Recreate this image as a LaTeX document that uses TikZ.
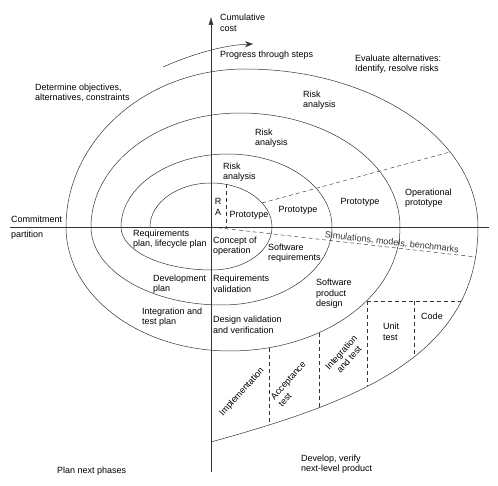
\documentclass[tikz,border=0pt]{standalone}
\usepackage{fontspec}
\setmainfont{Liberation Sans}
\usetikzlibrary{arrows.meta}

\tikzset{
	lbl/.style={font=\fontsize{9}{10.5}\selectfont, inner sep=0pt, align=left},
	axis/.style={line width=0.5pt, black!80},
	spiral/.style={line width=0.5pt, black!80},
	part/.style={line width=0.45pt, black!80, dash pattern=on 4pt off 3pt},
}

\begin{document}
\begin{tikzpicture}[x=1pt, y=-1pt]
		\useasboundingbox (0,0) rectangle (498,486);

		\coordinate (o) at (211,227);
		\coordinate (top) at (211,17);
		\coordinate (bot) at (211,472);
		\coordinate (west) at (10,227);
		\coordinate (east) at (489,227);
		\coordinate (start) at (150,227);

		% axes
		\draw[axis, -{Latex[length=8pt,width=5pt]}] (bot) -- (top);
		\draw[axis] (west) -- (east);

		% the spiral, one half turn after another
		\draw[spiral] (start)
			arc[start angle=180, end angle=270, x radius=61, y radius=44]
			arc[start angle=270, end angle=360, x radius=61, y radius=44]
			arc[start angle=0, end angle=90, x radius=60, y radius=43]
			arc[start angle=90, end angle=180, x radius=91, y radius=43]
			arc[start angle=180, end angle=270, x radius=107, y radius=73]
			arc[start angle=270, end angle=360, x radius=104, y radius=73]
			arc[start angle=0, end angle=90, x radius=110, y radius=78]
			arc[start angle=90, end angle=180, x radius=131, y radius=78]
			arc[start angle=180, end angle=270, x radius=149, y radius=114]
			arc[start angle=270, end angle=360, x radius=160, y radius=114]
			arc[start angle=0, end angle=90, x radius=170, y radius=124]
			arc[start angle=90, end angle=180, x radius=164, y radius=124]
			arc[start angle=180, end angle=270, x radius=179, y radius=158]
			arc[start angle=270, end angle=360, x radius=233, y radius=158]
			.. controls (478,357) and (355,402) .. (211,442);

		% progress arrow
		\coordinate (pg0) at (163,67);
		\coordinate (pg1) at (253,44);
		\draw[axis, -{Stealth[length=8pt,width=6pt]}] (pg0) .. controls (195,53) and (225,45) .. (pg1);

		% partitions
		\coordinate (ra0) at (226,184);
		\coordinate (ra1) at (226,227);
		\coordinate (pr0) at (262,203);
		\coordinate (pr1) at (450,152);
		\coordinate (sim1) at (476,257);
		\coordinate (imp0) at (269,348);
		\coordinate (imp1) at (269,425);
		\coordinate (acc0) at (319,333);
		\coordinate (acc1) at (319,408);
		\coordinate (int0) at (367,301);
		\coordinate (int1) at (367,386);
		\coordinate (ut0) at (414,301);
		\coordinate (ut1) at (414,357);
		\coordinate (cd1) at (461,301);

		\draw[part] (ra0) -- (ra1);
		\draw[part] (pr0) -- (pr1);
		\draw[part] (o) -- (sim1) node[lbl, pos=0.68, sloped, above=1pt] (sim) {Simulations, models, benchmarks};
		\draw[part] (imp0) -- (imp1);
		\draw[part] (acc0) -- (acc1);
		\draw[part] (int0) -- (int1);
		\draw[part] (ut0) -- (ut1);
		\draw[part] (int0) -- (cd1);

		% quadrant texts
		\node[lbl, anchor=west] (cost) at (220,23) {Cumulative\\cost};
		\node[lbl, anchor=west] (progress) at (220,55) {Progress through steps};
		\node[lbl, anchor=west] (determine) at (35,93) {Determine objectives,\\alternatives, constraints};
		\node[lbl, anchor=west] (evaluate) at (355,64) {Evaluate alternatives:\\Identify, resolve risks};
		\node[lbl, anchor=west] (commit) at (11,219) {Commitment};
		\node[lbl, anchor=west] (partition) at (11,235) {partition};
		\node[lbl, anchor=west] (plannext) at (57,471) {Plan next phases};
		\node[lbl, anchor=west] (develop) at (301,464) {Develop, verify\\next-level product};

		% upper right
		\node[lbl, anchor=west] (risk3) at (303,100) {Risk\\analysis};
		\node[lbl, anchor=west] (risk2) at (255,138) {Risk\\analysis};
		\node[lbl, anchor=west] (risk1) at (223,172) {Risk\\analysis};
		\node[lbl, align=center] (ra) at (218,207) {R\\A};
		\node[lbl] (proto0) at (249,215) {Prototype};
		\node[lbl] (proto1) at (298,210) {Prototype};
		\node[lbl] (proto2) at (360,202) {Prototype};
		\node[lbl, anchor=west] (opproto) at (405,198) {Operational\\prototype};

		% lower left
		\node[lbl, anchor=west] (reqplan) at (133,239) {Requirements\\plan, lifecycle plan};
		\node[lbl, anchor=west] (devplan) at (153,284) {Development\\plan};
		\node[lbl, anchor=west] (intplan) at (142,317) {Integration and\\test plan};

		% lower right
		\node[lbl, anchor=west] (concept) at (213,246) {Concept of\\operation};
		\node[lbl, anchor=west] (softreq) at (268,253) {Software\\requirements};
		\node[lbl, anchor=west] (reqval) at (213,284) {Requirements\\validation};
		\node[lbl, anchor=west] (prodes) at (316,294) {Software\\product\\design};
		\node[lbl, anchor=west] (desval) at (213,325) {Design validation\\and verification};
		\node[lbl, rotate=48] (impl) at (242,392) {Implementation};
		\node[lbl, rotate=48] (accept) at (292,384) {Acceptance\\test};
		\node[lbl, rotate=48, align=center] (integ) at (345,356) {Integration\\and test};
		\node[lbl, anchor=west] (unit) at (383,332) {Unit\\test};
		\node[lbl] (code) at (432,316) {Code};
	\end{tikzpicture}
\end{document}
